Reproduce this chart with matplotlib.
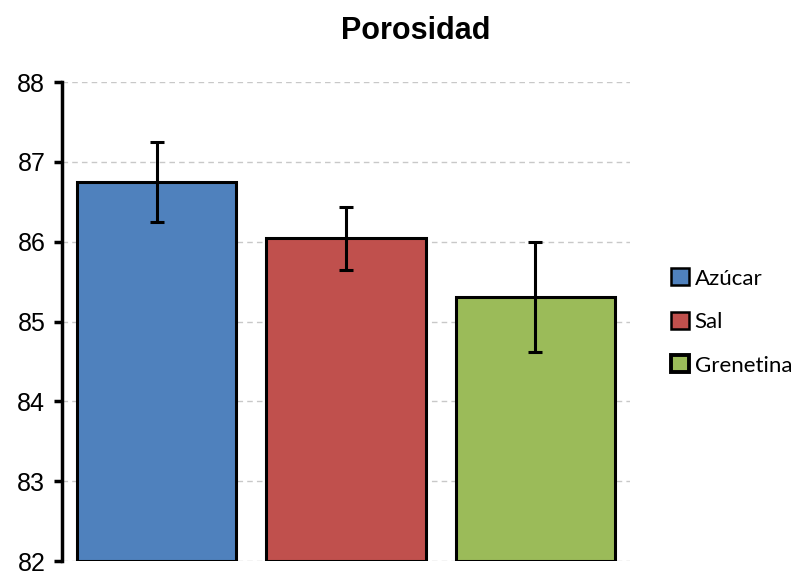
import matplotlib.pyplot as plt
from matplotlib.patches import Patch

# datos
categorias = ["Azúcar", "Sal", "Grenetina"]
porosidad = [86.75, 86.04, 85.31]
error = [0.50, 0.40, 0.69]
colores = ["#4F81BD", "#C0504D", "#9BBB59"]

fig = plt.figure(figsize=(8.04, 5.72), dpi=100)
ax = fig.add_axes([0.0771, 0.0192, 0.7065, 0.8374])

x = range(len(categorias))
ax.bar(x, [p - 82 for p in porosidad], bottom=82, width=0.84,
       color=colores, edgecolor="black", linewidth=2.2, zorder=2)
ax.errorbar(x, porosidad, yerr=error, fmt="none", ecolor="black",
            elinewidth=2.2, capsize=5, capthick=2.2, zorder=3)

ax.set_xlim(-0.5, 2.5)
ax.set_ylim(82, 88)
ax.set_yticks(range(82, 89))
ax.set_xticks([])
ax.grid(axis="y", color="#c8c8c8", linestyle=(0, (4, 3)), linewidth=1, zorder=0)

for lado in ["top", "right", "bottom"]:
    ax.spines[lado].set_visible(False)
ax.spines["left"].set_linewidth(2.5)
ax.tick_params(axis="y", direction="out", length=6, width=2.5, labelsize=18, pad=6)
for t in ax.get_yticklabels():
    t.set_family("Liberation Sans")
    t.set_verticalalignment("center_baseline")

fig.suptitle("Porosidad", fontsize=22, fontweight="bold", family="Liberation Sans",
             x=0.517, y=0.972)

handles = [Patch(facecolor=c, edgecolor="black", linewidth=1.8) for c in colores]
handles[2].set_linewidth(2.8)
fig.legend(handles, categorias, loc="center left", bbox_to_anchor=(0.81, 0.437),
           frameon=False, prop={"family": "Lato", "size": 16},
           handlelength=0.8, handleheight=0.8, handletextpad=0.25, labelspacing=1.05)

fig.savefig("out.png", dpi=100)
